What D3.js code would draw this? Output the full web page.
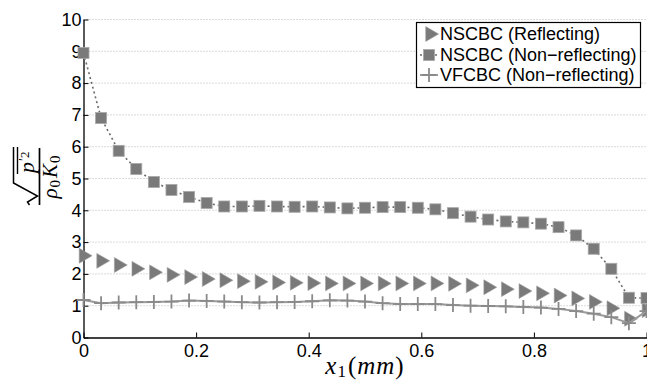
<!DOCTYPE html>
<html><head><meta charset="utf-8">
<script src="https://cdn.jsdelivr.net/npm/d3@7"></script>
<style>
html,body{margin:0;padding:0;background:#fff;}
svg{display:block;}
</style></head>
<body>
<svg id="c" width="647" height="383"></svg>
<script>
const xValues = [0,0.03125,0.0625,0.09375,0.125,0.15625,0.1875,0.21875,0.25,0.28125,0.3125,0.34375,0.375,0.40625,0.4375,0.46875,0.5,0.53125,0.5625,0.59375,0.625,0.65625,0.6875,0.71875,0.75,0.78125,0.8125,0.84375,0.875,0.90625,0.9375,0.96875,1];
const nscbcReflecting = [2.57,2.41,2.28,2.16,2.05,1.97,1.90,1.84,1.80,1.77,1.75,1.73,1.72,1.71,1.70,1.70,1.70,1.70,1.70,1.70,1.70,1.69,1.64,1.58,1.52,1.46,1.39,1.32,1.23,1.12,0.92,0.59,0.86];
const nscbcNonReflecting = [8.95,6.90,5.87,5.30,4.89,4.64,4.42,4.23,4.12,4.12,4.14,4.12,4.11,4.12,4.09,4.06,4.08,4.10,4.10,4.08,4.03,3.91,3.80,3.71,3.65,3.62,3.58,3.47,3.21,2.79,2.16,1.25,1.24];
const vfcbcNonReflecting = [1.18,1.08,1.10,1.11,1.12,1.13,1.16,1.15,1.13,1.11,1.10,1.11,1.12,1.14,1.17,1.16,1.13,1.08,1.05,1.05,1.05,1.02,1.00,0.99,0.98,0.96,0.94,0.90,0.83,0.75,0.64,0.45,0.83];
const xTicks = [0,0.2,0.4,0.6,0.8,1];
const xTickLabels = ["0","0.2","0.4","0.6","0.8","1"];
const yTicks = [0,1,2,3,4,5,6,7,8,9,10];
const yTickLabels = ["0","1","2","3","4","5","6","7","8","9","10"];
const legendLabels = ["NSCBC (Reflecting)","NSCBC (Non\u2212reflecting)","VFCBC (Non\u2212reflecting)"];

const svg = d3.select("#c");
const L = 83.5, R = 646.5, T = 19.5, B = 337.5;
const x = d3.scaleLinear().domain([0,1]).range([L,R]);
const y = d3.scaleLinear().domain([0,10]).range([B,T]);
const tickFont = "'Liberation Sans', Arial, Helvetica, sans-serif";

// grid
svg.append("g").selectAll("line").data(yTicks.filter(d=>d>0)).join("line")
  .attr("x1",L).attr("x2",R).attr("y1",d=>y(d)).attr("y2",d=>y(d))
  .attr("stroke","#b4b4b4").attr("stroke-width",1).attr("stroke-dasharray","1,2");

// axes
const xAxis = d3.axisBottom(x).tickValues(xTicks).tickFormat((d,i)=>xTickLabels[i])
  .tickSizeInner(-5).tickSizeOuter(0).tickPadding(7);
const gx = svg.append("g").attr("transform",`translate(0,${B})`).call(xAxis);
const yAxis = d3.axisLeft(y).tickValues(yTicks).tickFormat((d,i)=>yTickLabels[i])
  .tickSizeInner(-5).tickSizeOuter(0).tickPadding(2);
const gy = svg.append("g").attr("transform",`translate(${L},0)`).call(yAxis);
[gx,gy].forEach(g=>{
  g.selectAll("text").attr("font-family",tickFont).attr("font-size",18).attr("fill","#000");
  g.select(".domain").attr("stroke","#000").attr("stroke-width",1.3);
  g.selectAll(".tick line").attr("stroke","#000").attr("stroke-width",1);
});

const idx = d3.range(xValues.length);
const markColor = "#7a7a7a";

// triangles (markers only)
const tri = d3.symbol().type(d3.symbolTriangle).size(95);
svg.append("g").selectAll("path").data(idx).join("path")
  .attr("d",tri)
  .attr("transform",i=>`translate(${x(xValues[i])},${y(nscbcReflecting[i])}) rotate(90)`)
  .attr("fill",markColor).attr("stroke","#9a9a9a").attr("stroke-width",0.6);

// squares with dotted line
const line = (arr)=>d3.line().x(i=>x(xValues[i])).y(i=>y(arr[i]))(idx);
svg.append("path").attr("d",line(nscbcNonReflecting)).attr("fill","none")
  .attr("stroke","#6a6a6a").attr("stroke-width",1.6).attr("stroke-dasharray","2,3");
svg.append("g").selectAll("rect").data(idx).join("rect")
  .attr("x",i=>x(xValues[i])-5.5).attr("y",i=>y(nscbcNonReflecting[i])-5.5)
  .attr("width",11).attr("height",11)
  .attr("fill",markColor).attr("stroke","#a8a8a8").attr("stroke-width",0.8);

// VFCBC solid line with crosses
svg.append("path").attr("d",line(vfcbcNonReflecting)).attr("fill","none")
  .attr("stroke","#9a9a9a").attr("stroke-width",2);
const cross = (cx,cy,s)=>`M${cx-s},${cy}L${cx+s},${cy}M${cx},${cy-s}L${cx},${cy+s}`;
svg.append("g").selectAll("path").data(idx).join("path")
  .attr("d",i=>cross(x(xValues[i]),y(vfcbcNonReflecting[i]),7))
  .attr("stroke","#8a8a8a").attr("stroke-width",1.8).attr("fill","none");

// legend
const lg = svg.append("g");
lg.append("rect").attr("x",416.5).attr("y",22.5).attr("width",224).attr("height",65)
  .attr("fill","#fff").attr("stroke","#000").attr("stroke-width",1.2);
const rowsY = [34,55,75];
const mx = 429;
lg.append("path").attr("d",tri()).attr("transform",`translate(${mx+1},${rowsY[0]}) rotate(90)`)
  .attr("fill",markColor).attr("stroke","#9a9a9a").attr("stroke-width",0.6);
lg.append("line").attr("x1",420).attr("x2",438).attr("y1",rowsY[1]).attr("y2",rowsY[1])
  .attr("stroke","#6a6a6a").attr("stroke-width",1.6).attr("stroke-dasharray","2,3");
lg.append("rect").attr("x",mx-5.5).attr("y",rowsY[1]-5.5).attr("width",11).attr("height",11)
  .attr("fill",markColor).attr("stroke","#a8a8a8").attr("stroke-width",0.8);
lg.append("line").attr("x1",420).attr("x2",438).attr("y1",rowsY[2]).attr("y2",rowsY[2])
  .attr("stroke","#9a9a9a").attr("stroke-width",2);
lg.append("path").attr("d",cross(mx,rowsY[2],7)).attr("stroke","#8a8a8a").attr("stroke-width",1.8);
lg.selectAll("text").data(legendLabels).join("text")
  .attr("x",440).attr("y",(d,i)=>rowsY[i]).attr("dy","0.35em")
  .attr("font-family",tickFont).attr("font-size",18).attr("fill","#000").text(d=>d);

// x label
const serif = "'Liberation Serif', 'Times New Roman', serif";
const xl = svg.append("text").attr("x",(L+R)/2).attr("y",374).attr("text-anchor","middle")
  .attr("font-family",serif).attr("font-size",25).attr("letter-spacing","1px").attr("fill","#000");
xl.append("tspan").attr("font-style","italic").text("x");
xl.append("tspan").attr("font-size",17).attr("dy",3).text("1");
xl.append("tspan").attr("dy",-3).attr("dx",1).text("(");
xl.append("tspan").attr("font-style","italic").text("mm");
xl.append("tspan").text(")");

// y label (fraction, rotated)
const yl = svg.append("g").attr("transform","translate(39.5,177) rotate(-90)");
yl.append("line").attr("x1",-28).attr("x2",29).attr("y1",0).attr("y2",0)
  .attr("stroke","#000").attr("stroke-width",1.7);
const den = yl.append("text").attr("x",0).attr("y",17).attr("text-anchor","middle")
  .attr("font-family",serif).attr("font-size",21).attr("fill","#000");
den.append("tspan").attr("font-style","italic").text("\u03C1");
den.append("tspan").attr("font-size",15).attr("dy",3).attr("dx",1).text("0");
den.append("tspan").attr("font-style","italic").attr("dy",-3).attr("dx",2).text("K");
den.append("tspan").attr("font-size",15).attr("dy",3).attr("dx",1).text("0");
yl.append("path").attr("d","M-28,-10L-25,-12L-19,-2L-6,-26L30,-26")
  .attr("fill","none").attr("stroke","#000").attr("stroke-width",1.5);
yl.append("line").attr("x1",3).attr("x2",30).attr("y1",-22).attr("y2",-22)
  .attr("stroke","#000").attr("stroke-width",1.4);
const num = yl.append("text").attr("x",4).attr("y",-6)
  .attr("font-family",serif).attr("font-size",22).attr("fill","#000");
num.append("tspan").attr("font-style","italic").text("p");
num.append("tspan").attr("font-size",14).attr("dy",-5).attr("dx",1).text("\u2032");
num.append("tspan").attr("font-size",13).text("2");
</script>
</body></html>
